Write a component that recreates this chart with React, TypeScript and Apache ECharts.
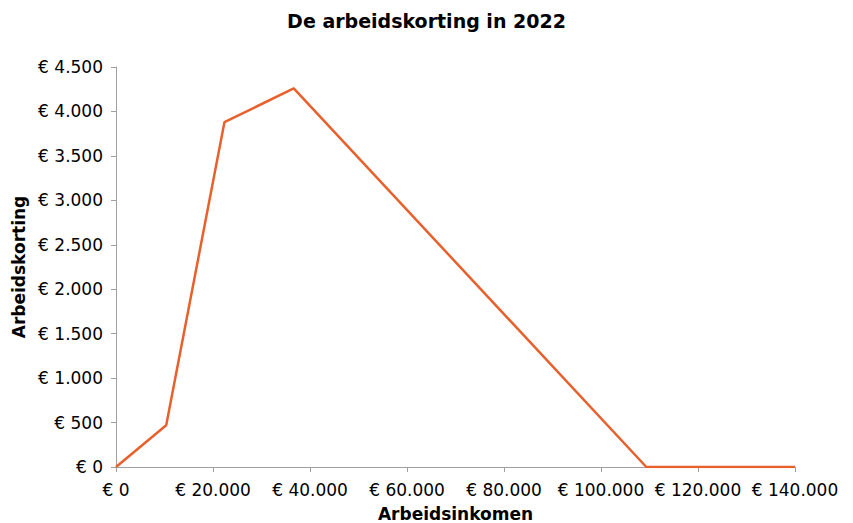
import React, { useEffect, useRef } from "react";
import * as echarts from "echarts";

const incomes = [0, 10351, 22357, 36650, 109346, 140000];
const credits = [0, 470, 3879, 4260, 0, 0];

const fmt = (v: number) => "€ " + v.toLocaleString("de-DE");

export default function App() {
  const ref = useRef<HTMLDivElement>(null);
  useEffect(() => {
    const chart = echarts.init(ref.current!, undefined, { renderer: "svg" });
    const font = "Verdana, 'DejaVu Sans', sans-serif";
    chart.setOption({
      animation: false,
      title: {
        text: "De arbeidskorting in 2022",
        left: "center",
        top: 11,
        padding: 0,
        textStyle: { fontFamily: font, fontSize: 19, fontWeight: "bold", color: "#000" },
      },
      grid: { left: 116, right: 58, top: 67, bottom: 56, containLabel: false, outerBoundsMode: "none" },
      xAxis: {
        type: "value",
        min: 0,
        max: 140000,
        interval: 20000,
        name: "Arbeidsinkomen",
        nameLocation: "middle",
        nameGap: 38.5,
        nameTextStyle: { fontFamily: font, fontSize: 17, fontWeight: "bold", color: "#000" },
        axisLine: { lineStyle: { color: "#a0a0a0" } },
        axisTick: { show: true, length: 5, lineStyle: { color: "#a0a0a0" } },
        splitLine: { show: false },
        axisLabel: { formatter: fmt, fontFamily: font, fontSize: 17, color: "#000", margin: 14 },
      },
      yAxis: {
        type: "value",
        min: 0,
        max: 4500,
        interval: 500,
        name: "Arbeidskorting",
        nameLocation: "middle",
        nameGap: 87.5,
        nameTextStyle: { fontFamily: font, fontSize: 17, fontWeight: "bold", color: "#000" },
        axisLine: { show: true, lineStyle: { color: "#a0a0a0" } },
        axisTick: { show: true, length: 5, lineStyle: { color: "#a0a0a0" } },
        splitLine: { show: false },
        axisLabel: { formatter: fmt, fontFamily: font, fontSize: 17, color: "#000", margin: 13 },
      },
      series: [
        {
          type: "line",
          data: incomes.map((x, i) => [x, credits[i]]),
          showSymbol: false,
          lineStyle: { color: "#E8602C", width: 2.5 },
          itemStyle: { color: "#E8602C" },
        },
      ],
    });
    return () => chart.dispose();
  }, []);
  return <div ref={ref} style={{ position: "absolute", left: 0, top: 0, width: 853, height: 523 }} />;
}
